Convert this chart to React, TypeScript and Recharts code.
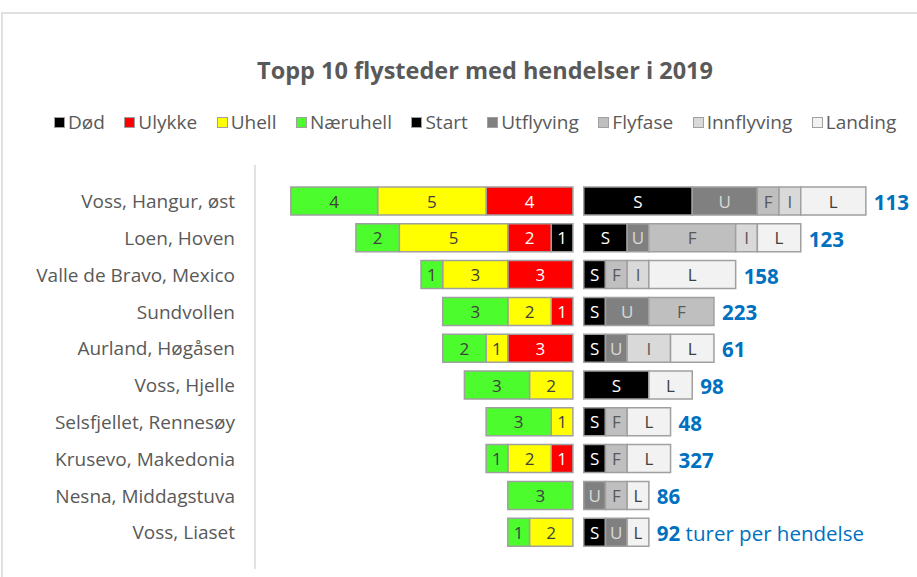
import { Bar, BarChart, LabelList, XAxis, YAxis } from "recharts";

const steder = [
  "Voss, Hangur, øst",
  "Loen, Hoven",
  "Valle de Bravo, Mexico",
  "Sundvollen",
  "Aurland, Høgåsen",
  "Voss, Hjelle",
  "Selsfjellet, Rennesøy",
  "Krusevo, Makedonia",
  "Nesna, Middagstuva",
  "Voss, Liaset",
];

// hendelser etter alvorlighet (venstre side)
const dod = [0, 1, 0, 0, 0, 0, 0, 0, 0, 0];
const ulykke = [4, 2, 3, 1, 3, 0, 0, 1, 0, 0];
const uhell = [5, 5, 3, 2, 1, 2, 1, 2, 0, 2];
const naeruhell = [4, 2, 1, 3, 2, 3, 3, 1, 3, 1];

// hendelser etter flyfase (høyre side)
const start = [5, 2, 1, 1, 1, 3, 1, 1, 0, 1];
const utflyving = [3, 1, 0, 2, 1, 0, 0, 0, 1, 1];
const flyfase = [1, 4, 1, 3, 0, 0, 1, 1, 1, 0];
const innflyving = [1, 1, 1, 0, 2, 0, 0, 0, 0, 0];
const landing = [3, 2, 4, 0, 2, 2, 2, 2, 1, 1];

const turer = [113, 123, 158, 223, 61, 98, 48, 327, 86, 92];

const FONT = "'Open Sans', Lato, sans-serif";
const GAP = 0.25;

const data = steder.map((navn, i) => ({
  navn,
  gapL: -GAP,
  dod: -dod[i],
  ulykke: -ulykke[i],
  uhell: -uhell[i],
  naeruhell: -naeruhell[i],
  gapR: GAP,
  start: start[i],
  utflyving: utflyving[i],
  flyfase: flyfase[i],
  innflyving: innflyving[i],
  landing: landing[i],
  endPad: 0.01,
  turer: turer[i],
}));

const venstre = [
  { key: "dod", navn: "Død", fill: "#000000", text: "#ffffff" },
  { key: "ulykke", navn: "Ulykke", fill: "#ff0000", text: "#ffffff" },
  { key: "uhell", navn: "Uhell", fill: "#ffff00", text: "#404040" },
  { key: "naeruhell", navn: "Næruhell", fill: "#4cfc2c", text: "#404040" },
];

const hoyre = [
  { key: "start", navn: "Start", fill: "#000000", text: "#ffffff", bokstav: "S" },
  { key: "utflyving", navn: "Utflyving", fill: "#808080", text: "#d9d9d9", bokstav: "U" },
  { key: "flyfase", navn: "Flyfase", fill: "#bfbfbf", text: "#595959", bokstav: "F" },
  { key: "innflyving", navn: "Innflyving", fill: "#d9d9d9", text: "#595959", bokstav: "I" },
  { key: "landing", navn: "Landing", fill: "#f2f2f2", text: "#404040", bokstav: "L" },
];

function segLabel(tekst: (v: number) => string, color: string) {
  return (props: any) => {
    const { x, y, width, height, value } = props;
    if (!value) return null;
    return (
      <text
        x={x + width / 2}
        y={y + height / 2}
        textAnchor="middle"
        dominantBaseline="central"
        fill={color}
        fontSize={17}
        fontFamily={FONT}
      >
        {tekst(value)}
      </text>
    );
  };
}

function TurLabel(props: any) {
  const { x, y, height, value, index } = props;
  const siste = index === steder.length - 1;
  return (
    <text
      x={x + 8}
      y={y + height / 2 + 1}
      dominantBaseline="central"
      fill="#0070c0"
      fontSize={20.5}
      fontFamily={FONT}
    >
      <tspan fontWeight="bold">{value}</tspan>
      {siste && <tspan> turer per hendelse</tspan>}
    </text>
  );
}

export default function App() {
  const legend = [...venstre, ...hoyre];
  return (
    <div style={{ position: "absolute", left: 0, top: 0, width: 917, height: 577, background: "#fff", overflow: "hidden", fontFamily: FONT }}>
      <div style={{ position: "absolute", left: 1, top: 12, width: 940, height: 600, borderTop: "2px solid #e0e0e0", borderLeft: "2px solid #e0e0e0" }} />
      <div style={{ position: "absolute", left: 0, top: 54, width: 970, textAlign: "center", fontSize: 23.5, fontWeight: "bold", color: "#595959" }}>
        Topp 10 flysteder med hendelser i 2019
      </div>
      <div style={{ position: "absolute", left: 54, top: 109, display: "flex", gap: 19.5, fontSize: 19, color: "#595959", whiteSpace: "nowrap" }}>
        {legend.map((s) => (
          <span key={s.key} style={{ display: "flex", alignItems: "center" }}>
            <span style={{ width: 9, height: 9, background: s.fill, border: "1px solid #a0a0a0", marginRight: 3, display: "inline-block" }} />
            {s.navn}
          </span>
        ))}
      </div>
      <BarChart
        width={917}
        height={577}
        data={data}
        layout="vertical"
        stackOffset="sign"
        barSize={28}
        margin={{ top: 165, right: 11, bottom: 8, left: 55 }}
        style={{ position: "absolute", left: 0, top: 0 }}
      >
        <XAxis type="number" domain={[-14.9, 15.1]} allowDataOverflow hide />
        <YAxis
          type="category"
          dataKey="navn"
          width={200}
          axisLine={{ stroke: "#d9d9d9", strokeWidth: 1.5 }}
          tickLine={false}
          tickSize={0}
          tickMargin={20}
          padding={{ top: 18, bottom: 18 }}
          tick={{ fontSize: 19, fontFamily: FONT, fill: "#595959" }}
          interval={0}
        />
        <Bar dataKey="gapL" stackId="a" fill="none" isAnimationActive={false} />
        {venstre.map((s) => (
          <Bar key={s.key} dataKey={s.key} stackId="a" fill={s.fill} stroke="#a0a0a0" strokeWidth={1.5} isAnimationActive={false}>
            <LabelList dataKey={s.key} content={segLabel((v) => String(Math.abs(v)), s.text)} />
          </Bar>
        ))}
        <Bar dataKey="gapR" stackId="a" fill="none" isAnimationActive={false} />
        {hoyre.map((s) => (
          <Bar key={s.key} dataKey={s.key} stackId="a" fill={s.fill} stroke="#a0a0a0" strokeWidth={1.5} isAnimationActive={false}>
            <LabelList dataKey={s.key} content={segLabel(() => s.bokstav, s.text)} />
          </Bar>
        ))}
        <Bar dataKey="endPad" stackId="a" fill="none" isAnimationActive={false}>
          <LabelList dataKey="turer" content={TurLabel} />
        </Bar>
      </BarChart>
    </div>
  );
}
